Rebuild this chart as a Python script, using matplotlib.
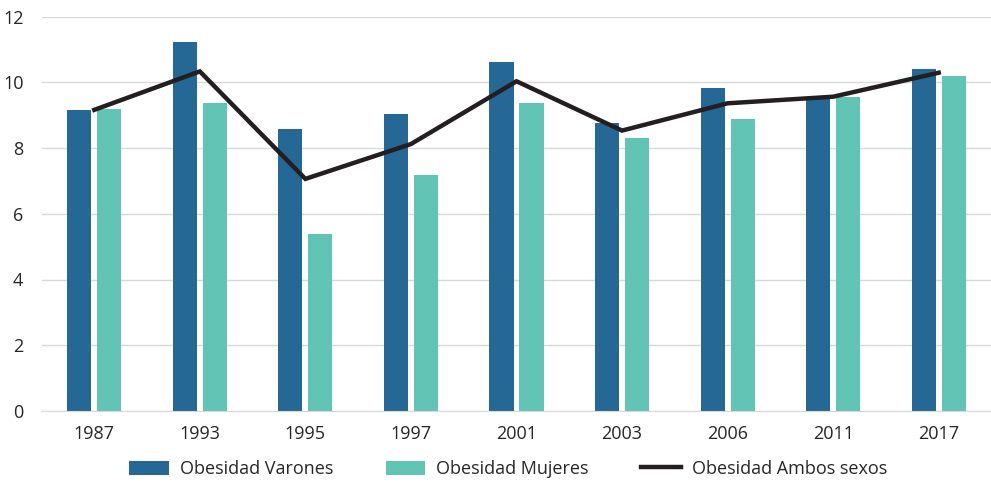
import matplotlib
matplotlib.use("Agg")
import matplotlib.pyplot as plt
import numpy as np

years = ["1987", "1993", "1995", "1997", "2001", "2003", "2006", "2011", "2017"]
varones = [9.16, 11.23, 8.58, 9.04, 10.62, 8.76, 9.83, 9.52, 10.40]
mujeres = [9.19, 9.37, 5.38, 7.18, 9.37, 8.30, 8.88, 9.55, 10.19]
ambos = [9.16, 10.33, 7.06, 8.12, 10.03, 8.53, 9.36, 9.56, 10.29]

plt.rcParams['font.family'] = ['Open Sans', 'DejaVu Sans']

fig = plt.figure(figsize=(9.91, 4.84), dpi=100)
ax = fig.add_axes([41.5 / 991, 1 - 411 / 484, 950 / 991, (411 - 16.5) / 484])

x = np.arange(len(years))
w = 0.228
off = 0.142
c_v = "#256795"
c_m = "#62c4b5"
hv = ax.bar(x - off, varones, width=w, color=c_v, label="Obesidad Varones", zorder=2)
hm = ax.bar(x + off, mujeres, width=w, color=c_m, label="Obesidad Mujeres", zorder=2)
hl, = ax.plot(x, ambos, color="#231f20", lw=3.2, label="Obesidad Ambos sexos", zorder=3,
              solid_joinstyle="miter")

ax.set_xlim(-0.5, len(years) - 0.5)
ax.set_ylim(0, 12)
ax.set_yticks(range(0, 13, 2))
ax.set_xticks(x)
ax.set_xticklabels(years)
ax.grid(axis="y", color="#d9d9d9", lw=1, zorder=0)
ax.set_axisbelow(True)
for s in ["top", "right", "left"]:
    ax.spines[s].set_visible(False)
ax.spines["bottom"].set_color("#d9d9d9")
ax.tick_params(axis="both", length=0, labelsize=13, colors="#262626")
ax.tick_params(axis="x", pad=10)
ax.tick_params(axis="y", pad=13)

leg = fig.legend([hv, hm, hl], ["Obesidad Varones", "Obesidad Mujeres", "Obesidad Ambos sexos"],
                 loc="center", bbox_to_anchor=(508 / 991, 1 - 469 / 484), ncol=3, frameon=False,
                 fontsize=13, handlelength=2.2, handleheight=0.8, columnspacing=2.9,
                 handletextpad=0.6)
for t in leg.get_texts():
    t.set_color("#262626")

fig.savefig("out.png", dpi=100)
